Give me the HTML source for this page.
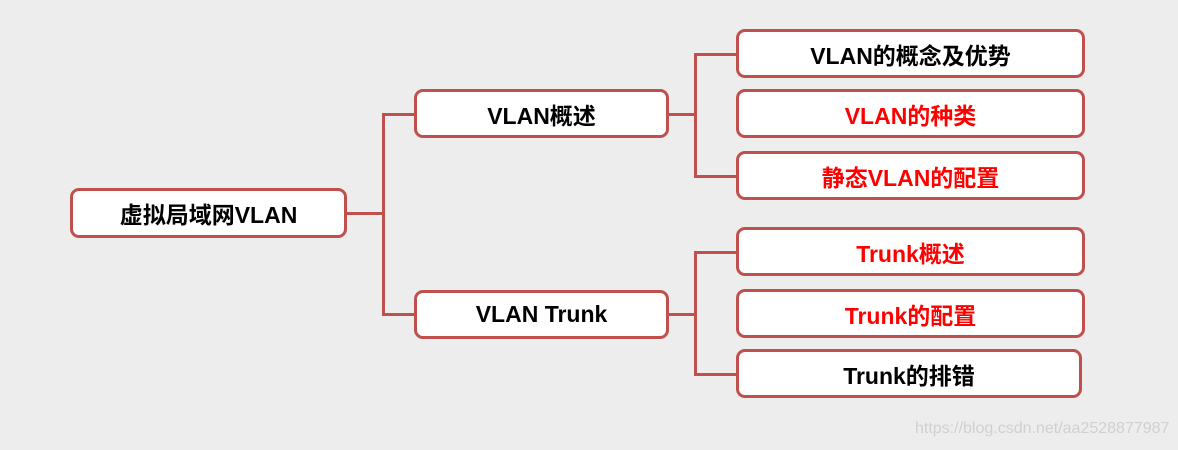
<!DOCTYPE html>
<html><head><meta charset="utf-8"><style>
body{margin:0;width:1178px;height:450px;background:#ededed;position:relative;overflow:hidden;font-family:"Liberation Sans","Noto Sans CJK SC",sans-serif}
.b{position:absolute;box-sizing:border-box;background:#fff;border:3px solid #c0504d;border-radius:9px;display:flex;align-items:center;justify-content:center;font-weight:bold;font-size:23px;color:#000}
.r{color:#ff0000}
.l{position:absolute;background:#c0504d}
.w{position:absolute;left:915px;top:420px;font-size:16px;color:#d0d0d0}
</style></head><body>
<div class="l" style="left:346px;top:212px;width:38px;height:3px"></div>
<div class="l" style="left:382px;top:113px;width:3px;height:203px"></div>
<div class="l" style="left:382px;top:113px;width:34px;height:3px"></div>
<div class="l" style="left:382px;top:313px;width:34px;height:3px"></div>
<div class="l" style="left:668px;top:113px;width:28px;height:3px"></div>
<div class="l" style="left:694px;top:53px;width:3px;height:125px"></div>
<div class="l" style="left:694px;top:53px;width:44px;height:3px"></div>
<div class="l" style="left:694px;top:175px;width:44px;height:3px"></div>
<div class="l" style="left:668px;top:313px;width:28px;height:3px"></div>
<div class="l" style="left:694px;top:251px;width:3px;height:125px"></div>
<div class="l" style="left:694px;top:251px;width:44px;height:3px"></div>
<div class="l" style="left:694px;top:373px;width:44px;height:3px"></div>
<div class="b" style="left:70px;top:188px;width:277px;height:50px">虚拟局域网VLAN</div>
<div class="b" style="left:414px;top:89px;width:255px;height:49px">VLAN概述</div>
<div class="b" style="left:414px;top:290px;width:255px;height:49px">VLAN Trunk</div>
<div class="b" style="left:736px;top:29px;width:349px;height:49px">VLAN的概念及优势</div>
<div class="b r" style="left:736px;top:89px;width:349px;height:49px">VLAN的种类</div>
<div class="b r" style="left:736px;top:151px;width:349px;height:49px">静态VLAN的配置</div>
<div class="b r" style="left:736px;top:227px;width:349px;height:49px">Trunk概述</div>
<div class="b r" style="left:736px;top:289px;width:349px;height:49px">Trunk的配置</div>
<div class="b" style="left:736px;top:349px;width:346px;height:49px">Trunk的排错</div>
<div class="w">https://blog.csdn.net/aa2528877987</div>
</body></html>
